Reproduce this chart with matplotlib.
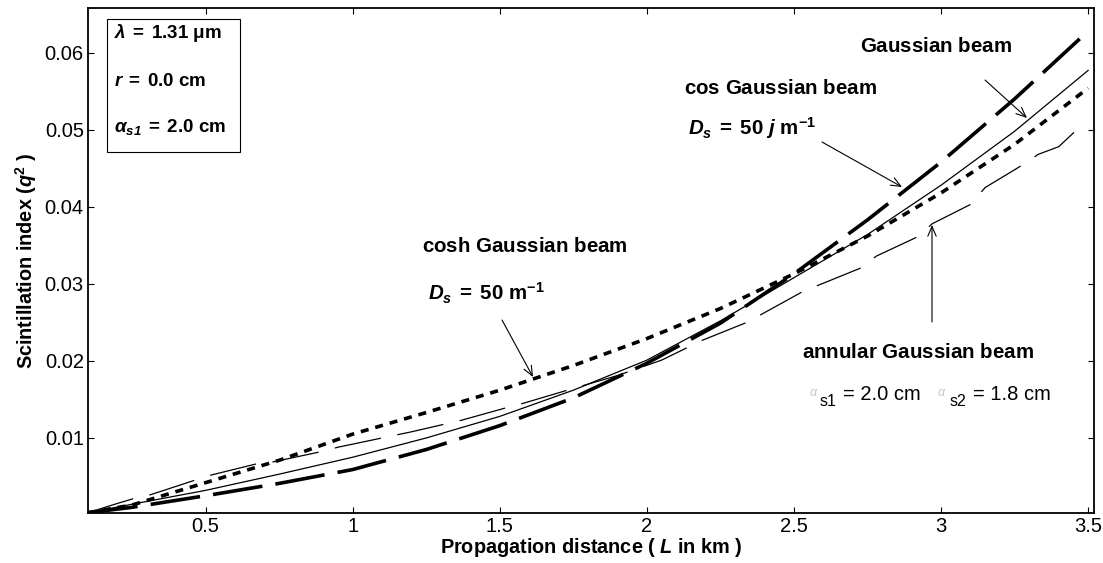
import matplotlib
matplotlib.use("Agg")
import matplotlib.pyplot as plt

plt.rcParams['font.family'] = ['Liberation Sans', 'DejaVu Sans']
plt.rcParams['mathtext.fontset'] = 'custom'
plt.rcParams['mathtext.rm'] = 'Liberation Sans'
plt.rcParams['mathtext.it'] = 'Liberation Sans:italic'
plt.rcParams['mathtext.bf'] = 'Liberation Sans:bold'
plt.rcParams['mathtext.bfit'] = 'Liberation Sans:italic:bold'
plt.rcParams['lines.scale_dashes'] = False

# propagation distance (km)
L_km = [0.1, 0.25, 0.5, 0.75, 1.0, 1.25, 1.5, 1.75, 2.0, 2.25, 2.5, 2.75, 3.0, 3.25, 3.5]
gauss = [0.0003, 0.0014, 0.0032, 0.0053, 0.0075, 0.0100, 0.0128, 0.0162, 0.0201,
         0.0252, 0.0308, 0.0364, 0.0428, 0.0498, 0.0577]
cos_gauss = [0.0003, 0.0010, 0.0025, 0.0041, 0.0059, 0.0085, 0.0116, 0.0152, 0.0197,
             0.0249, 0.0313, 0.0383, 0.0458, 0.0540, 0.0628]
cosh_gauss = [0.0003, 0.0013, 0.0042, 0.0071, 0.0105, 0.0133, 0.0162, 0.0194, 0.0229,
              0.0268, 0.0313, 0.0362, 0.0418, 0.0481, 0.0554]

# annular beam curve is jagged, read at its own points
ann_L = [0.1, 0.2, 0.27, 0.31, 0.47, 0.52, 0.69, 0.73, 0.89, 0.95, 1.1, 1.2, 1.37, 1.52,
         1.58, 1.73, 1.9, 2.05, 2.19, 2.34, 2.53, 2.73, 2.78, 2.92, 2.97, 3.1, 3.15,
         3.28, 3.33, 3.4, 3.47]
annular = [0.0003, 0.0015, 0.0023, 0.0026, 0.0046, 0.0052, 0.0068, 0.0069, 0.0082, 0.0088,
           0.0100, 0.0108, 0.0123, 0.0139, 0.0145, 0.0162, 0.0181, 0.0201, 0.0227, 0.0250,
           0.0290, 0.0321, 0.0336, 0.0361, 0.0378, 0.0403, 0.0425, 0.0455, 0.0468, 0.0478,
           0.0503]

xticks = [0.5, 1, 1.5, 2, 2.5, 3, 3.5]
xtick_labels = ['0.5', '1', '1.5', '2', '2.5', '3', '3.5']
yticks = [0.01, 0.02, 0.03, 0.04, 0.05, 0.06]
ytick_labels = ['0.01', '0.02', '0.03', '0.04', '0.05', '0.06']

W, H = 1103, 563
fig = plt.figure(figsize=(W / 100, H / 100), dpi=100)
ax = fig.add_axes([88 / W, 1 - 513 / H, (1094 - 88) / W, (513 - 8) / H])


def fp(x, y):
    # pixel position -> figure fraction
    return (x / W, 1 - y / H)


ax.plot(L_km, gauss, color='black', lw=0.9)
ax.plot(L_km, cos_gauss, color='black', lw=2.6, dashes=(36, 9.5))
ax.plot(L_km, cosh_gauss, color='black', lw=2.6, dashes=(5.8, 5))
ax.plot(ann_L, annular, color='black', lw=0.9, dashes=(34, 12))

ax.set_xlim(0.1, 3.52)
ax.set_ylim(0.00026, 0.0658)
ax.set_xticks(xticks)
ax.set_xticklabels(xtick_labels)
ax.set_yticks(yticks)
ax.set_yticklabels(ytick_labels)
ax.tick_params(direction='in', length=4, width=0.8, top=True, right=True,
               labelsize=14.5, pad=3)
for s in ax.spines.values():
    s.set_linewidth(1.3)

ax.set_xlabel(r'$\mathbf{Propagation\ distance\ (\ }\mathbfit{L}\mathbf{\ in\ km\ )}$',
              fontsize=14.3, labelpad=0)
ax.set_ylabel(r'$\mathbf{Scintillation\ index\ (}\mathbfit{q}^{\mathbf{2}}\mathbf{\ )}$',
              fontsize=14.3, labelpad=4)

# parameter box
box_x0, box_y0, box_x1, box_y1 = 107, 19, 240, 152
fig.patches.append(plt.Rectangle(fp(box_x0, box_y1), (box_x1 - box_x0) / W,
                                 (box_y1 - box_y0) / H, transform=fig.transFigure,
                                 fill=True, facecolor='white', edgecolor='black', lw=0.8,
                                 zorder=5))
box_kw = dict(fontsize=13.5, ha='left', va='center', transform=fig.transFigure, zorder=6)
fig.text(*fp(114, 33), r'$\mathbfit{λ}\mathbf{\;=\;1.31\ μm}$', **box_kw)
fig.text(*fp(114, 81), r'$\mathbfit{r}\mathbf{\;=\;0.0\ cm}$', **box_kw)
fig.text(*fp(114, 127), r'$\mathbfit{α}_{\mathbfit{s1}}\mathbf{\;=\;2.0\ cm}$', **box_kw)

lab_kw = dict(fontsize=14.8, ha='left', va='center', transform=fig.transFigure)
fig.text(*fp(860, 47), r'$\mathbf{Gaussian\ beam}$', **lab_kw)
fig.text(*fp(684, 88), r'$\mathbf{cos\ Gaussian\ beam}$', **lab_kw)
fig.text(*fp(688, 128), r'$\mathbfit{D}_{\mathbfit{s}}\mathbf{\;=\;50\ }\mathbfit{j}\mathbf{\ m}^{\mathbf{-1}}$', **lab_kw)
fig.text(*fp(422, 247), r'$\mathbf{cosh\ Gaussian\ beam}$', **lab_kw)
fig.text(*fp(428, 293), r'$\mathbfit{D}_{\mathbfit{s}}\mathbf{\;=\;50\ m}^{\mathbf{-1}}$', **lab_kw)
fig.text(*fp(802, 352), r'$\mathbf{annular\ Gaussian\ beam}$', **lab_kw)

# annular beam radii, alpha glyph rendered faint as in the source
fig.text(*fp(810, 393), 'α', fontsize=9, color='#c8c8c8', style='italic',
         ha='left', va='center', transform=fig.transFigure)
fig.text(*fp(820, 401), 's1', fontsize=11.5, ha='left', va='center', transform=fig.transFigure)
fig.text(*fp(843, 395), '= 2.0 cm', fontsize=14.5, ha='left', va='center',
         transform=fig.transFigure)
fig.text(*fp(938, 393), 'α', fontsize=9, color='#c8c8c8', style='italic',
         ha='left', va='center', transform=fig.transFigure)
fig.text(*fp(950, 401), 's2', fontsize=11.5, ha='left', va='center', transform=fig.transFigure)
fig.text(*fp(973, 395), '= 1.8 cm', fontsize=14.5, ha='left', va='center',
         transform=fig.transFigure)

arrow_kw = dict(arrowstyle='->,head_length=0.7,head_width=0.3', color='black', lw=0.8,
                shrinkA=0, shrinkB=0)
for start, tip in [((822, 142), (902, 187)),
                   ((985, 80), (1027, 118)),
                   ((502, 320), (533, 377)),
                   ((932, 322), (932, 225))]:
    ax.annotate('', xy=fp(*tip), xycoords='figure fraction',
                xytext=fp(*start), textcoords='figure fraction', arrowprops=arrow_kw)

fig.savefig('out.png', dpi=100, facecolor='white')
